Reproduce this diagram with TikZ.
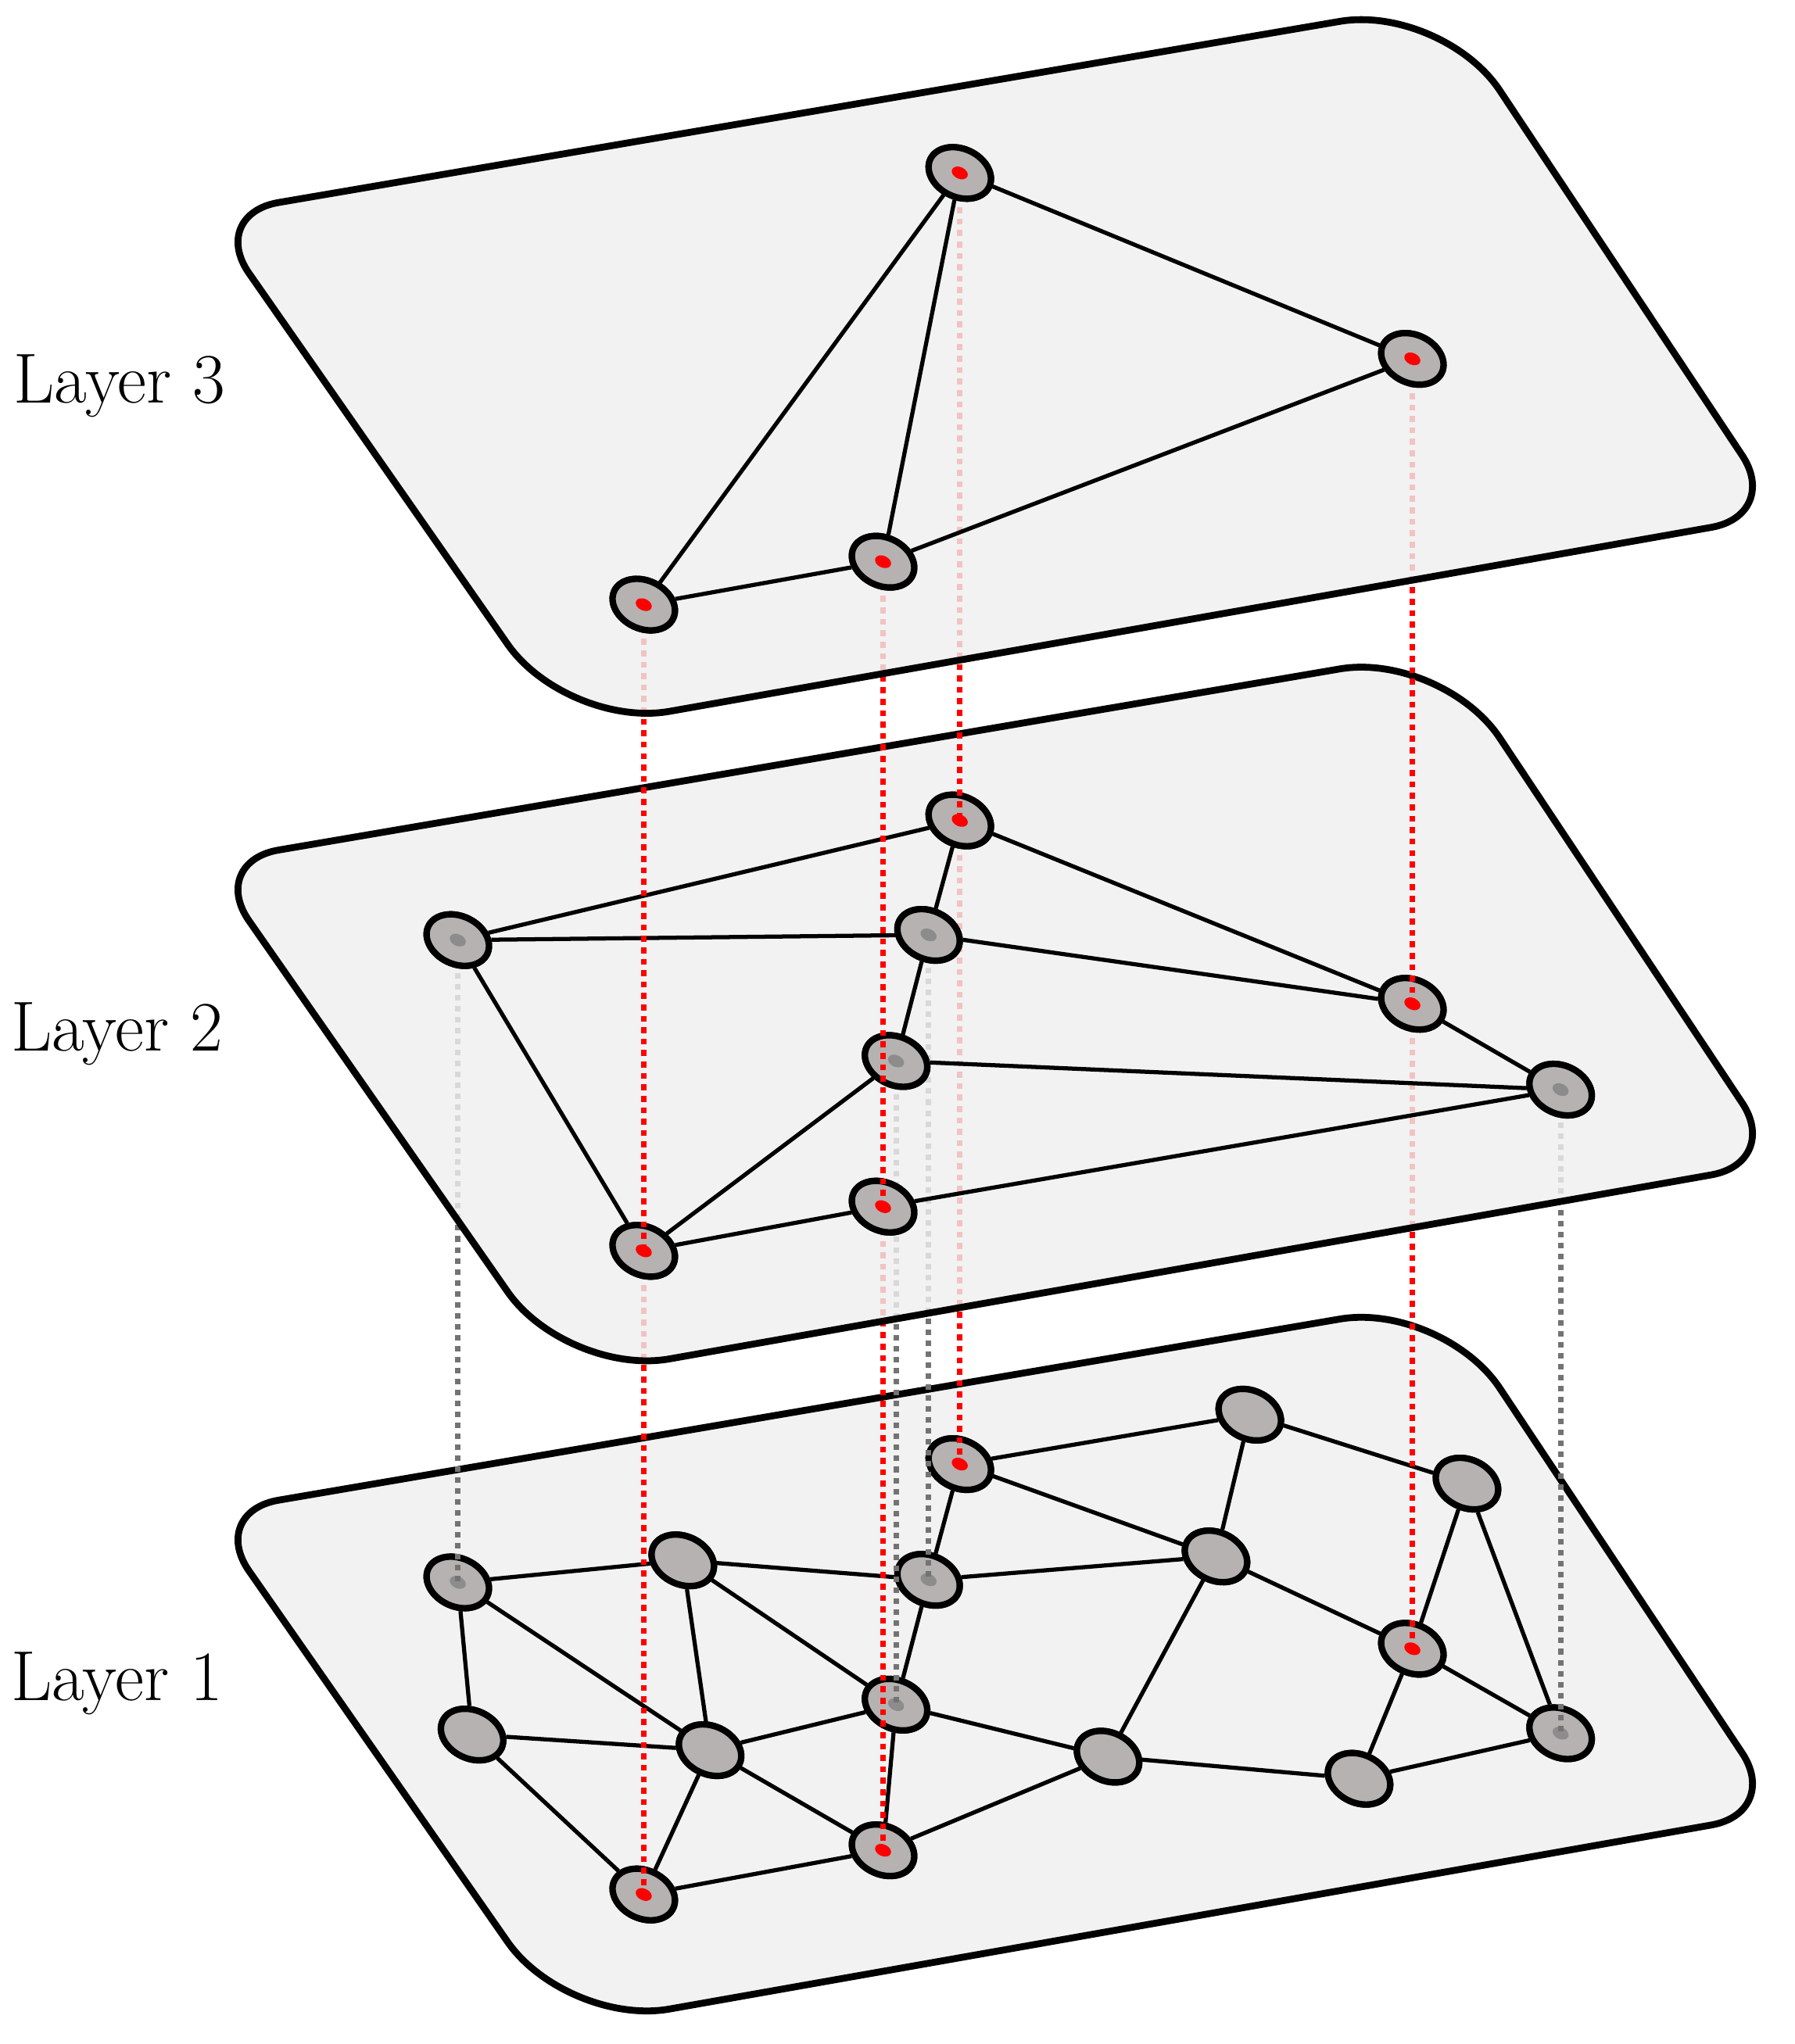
\documentclass[tikz,border=0pt]{standalone}
\usetikzlibrary{shapes.geometric}
\begin{document}
\begin{tikzpicture}[x=0.02cm,y=-0.02cm,
 nd/.style={ellipse,draw=black,line width=2.8pt,fill=nodegray,minimum width=1.0cm,minimum height=0.74cm,inner sep=0pt,rotate=-25},
 rd/.style={nd,label={[ellipse,fill=red,minimum width=0.26cm,minimum height=0.18cm,inner sep=0pt,rotate=-25]center:}},
 gd/.style={nd,label={[ellipse,fill=gray!90,minimum width=0.26cm,minimum height=0.18cm,inner sep=0pt,rotate=-25]center:}},
 ed/.style={line width=1.8pt},
 rl/.style={red,line width=2.6pt,dash pattern=on 2.6pt off 2.4pt},
 gl/.style={gray!90!black,line width=2.4pt,dash pattern=on 2.4pt off 2.4pt},
 plane/.style={draw=black,line width=3pt,fill=planegray,fill opacity=0.82},
 lab/.style={font=\fontsize{31}{36}\selectfont,anchor=center}]
\definecolor{nodegray}{RGB}{181,178,177}
\definecolor{planegray}{RGB}{239,239,239}
\useasboundingbox (0,0) rectangle (1380,1572);
\newcommand{\myplane}[1]{%
 \begin{scope}[yshift=#1*(-0.02cm)]
 \path[plane] (298,363) [rounded corners=1.1cm]-- (160,165) [rounded corners=1.6cm]-- (1109,3) [rounded corners=1.1cm]-- (1370,396) [rounded corners=1.6cm]-- (436,561) [sharp corners]-- cycle;
 \end{scope}}
% ---------- Layer 1 ----------
\myplane{998}
\node[nd] (a) at (961,1088) {};
\node[rd] (b) at (738,1126) {};
\node[nd] (c) at (1128,1141) {};
\node[nd] (d) at (525,1200) {};
\node[gd] (e) at (352,1217) {};
\node[gd] (f) at (714,1215) {};
\node[nd] (g) at (935,1197) {};
\node[rd] (h) at (1086,1268) {};
\node[gd] (i) at (689,1311) {};
\node[nd] (j) at (363,1334) {};
\node[nd] (k) at (546,1346) {};
\node[nd] (l) at (852,1351) {};
\node[gd] (m) at (1200,1333) {};
\node[nd] (n) at (1045,1368) {};
\node[rd] (o) at (679,1423) {};
\node[rd] (p) at (495,1457) {};
\foreach \u/\v in {b/a,a/c,a/g,b/g,b/f,c/h,c/m,e/d,d/f,e/j,e/k,d/k,d/i,f/g,f/i,g/h,g/l,h/m,h/n,j/k,k/i,k/p,k/o,j/p,i/l,o/l,l/n,n/m,p/o,i/o}
 \draw[ed] (\u) -- (\v);
% redraw nodes above edges
\node[nd] at (a) {}; \node[rd] at (b) {}; \node[nd] at (c) {}; \node[nd] at (d) {};
\node[gd] at (e) {}; \node[gd] at (f) {}; \node[nd] at (g) {}; \node[rd] at (h) {};
\node[gd] at (i) {}; \node[nd] at (j) {}; \node[nd] at (k) {}; \node[nd] at (l) {};
\node[gd] at (m) {}; \node[nd] at (n) {}; \node[rd] at (o) {}; \node[rd] at (p) {};
% layer 2 coordinates (for connectors)
\coordinate (E) at (738,631); \coordinate (F) at (352,723); \coordinate (G) at (714,719);
\coordinate (H) at (1086,772); \coordinate (I) at (689,816); \coordinate (J) at (1200,838);
\coordinate (K) at (495,962); \coordinate (L) at (679,928);
\draw[rl] (E) -- (b.center); \draw[rl] (H) -- (h.center); \draw[rl] (K) -- (p.center); \draw[rl] (L) -- (o.center);
\draw[gl] (F) -- (e.center); \draw[gl] (G) -- (f.center); \draw[gl] (I) -- (i.center); \draw[gl] (J) -- (m.center);
% ---------- Layer 2 ----------
\myplane{498}
\node[rd] (E2) at (E) {}; \node[gd] (F2) at (F) {}; \node[gd] (G2) at (G) {};
\node[rd] (H2) at (H) {}; \node[gd] (I2) at (I) {}; \node[gd] (J2) at (J) {};
\node[rd] (K2) at (K) {}; \node[rd] (L2) at (L) {};
\foreach \u/\v in {F2/E2,F2/G2,F2/K2,E2/G2,E2/H2,G2/H2,G2/I2,I2/K2,I2/J2,H2/J2,K2/L2,L2/J2}
 \draw[ed] (\u) -- (\v);
\node[rd] at (E) {}; \node[gd] at (F) {}; \node[gd] at (G) {};
\node[rd] at (H) {}; \node[gd] at (I) {}; \node[gd] at (J) {};
\node[rd] at (K) {}; \node[rd] at (L) {};
\coordinate (A) at (738,133); \coordinate (B) at (1086,276); \coordinate (C) at (495,465); \coordinate (D) at (679,432);
\draw[rl] (A) -- (E); \draw[rl] (B) -- (H); \draw[rl] (C) -- (K); \draw[rl] (D) -- (L);
% ---------- Layer 3 ----------
\myplane{0}
\node[rd] (A3) at (A) {}; \node[rd] (B3) at (B) {}; \node[rd] (C3) at (C) {}; \node[rd] (D3) at (D) {};
\foreach \u/\v in {A3/C3,A3/D3,A3/B3,C3/D3,D3/B3}
 \draw[ed] (\u) -- (\v);
\node[rd] at (A) {}; \node[rd] at (B) {}; \node[rd] at (C) {}; \node[rd] at (D) {};
% labels
\node[lab] (t3) at (92,297) {Layer 3};
\node[lab] (t2) at (90,795) {Layer 2};
\node[lab] (t1) at (90,1295) {Layer 1};
\end{tikzpicture}
\end{document}
